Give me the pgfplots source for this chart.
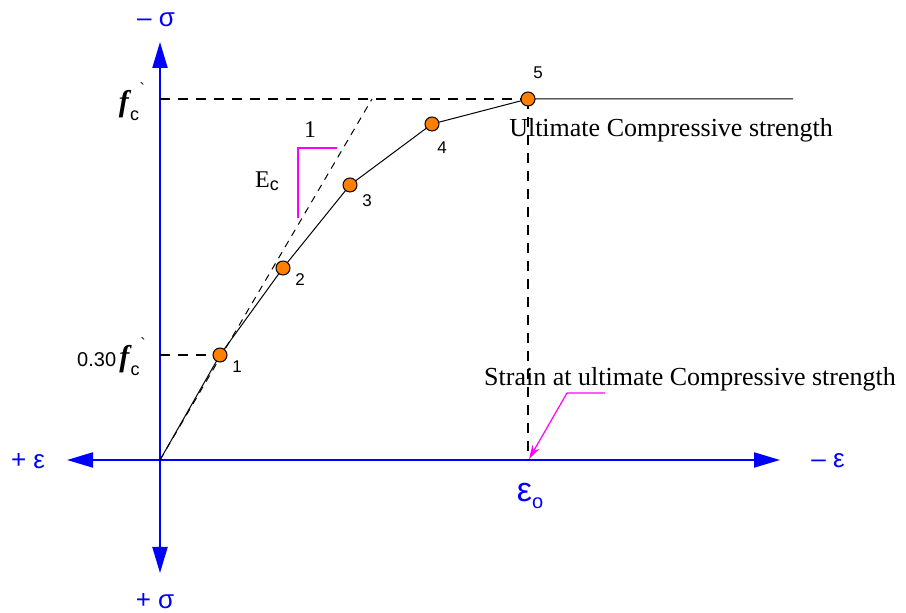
\documentclass[border=0pt]{standalone}
\usepackage{pgfplots}
\pgfplotsset{compat=1.18}
\usepackage{fontspec}
\setmainfont{Liberation Serif}
\newfontfamily\arial{Liberation Sans}
\usetikzlibrary{arrows.meta}
\definecolor{ptorange}{RGB}{255,128,0}
\definecolor{axblue}{RGB}{0,0,255}
\definecolor{mag}{RGB}{255,0,255}
\newcommand{\fc}{{\bfseries\itshape f}\kern0.04em\raisebox{-0.7ex}{\arial\fontsize{9}{10}\selectfont c}\kern0.02em\raisebox{1.2ex}{\arial\fontsize{8}{9}\selectfont `}}
\begin{document}
\begin{tikzpicture}
\begin{axis}[
  scale only axis, width=453pt, height=306.5pt,
  xmin=0, xmax=906, ymin=0, ymax=613, y dir=reverse,
  hide axis, clip=false,
]
% axes
\addplot[axblue, line width=1pt, -{Triangle[length=13pt,width=7.5pt]}] coordinates {(160,460) (160,42)};
\addplot[axblue, line width=1pt, -{Triangle[length=13pt,width=7.5pt]}] coordinates {(160,460) (160,573)};
\addplot[axblue, line width=1pt, -{Triangle[length=13pt,width=7.5pt]}] coordinates {(160,460) (67,460)};
\addplot[axblue, line width=1pt, -{Triangle[length=13pt,width=7.5pt]}] coordinates {(160,460) (780,460)};
% dashed guides
\addplot[black, line width=0.6pt, dash pattern=on 5pt off 4pt] coordinates {(160,99) (528,99)};
\addplot[black, line width=0.6pt, dash pattern=on 5pt off 4pt] coordinates {(160,355) (220,355)};
\addplot[black, line width=0.6pt, dash pattern=on 5pt off 4pt] coordinates {(528,99) (528,460)};
% tangent
\addplot[black, line width=0.5pt, dash pattern=on 3.5pt off 3pt] coordinates {(160,460) (372,99)};
% slope triangle
\addplot[mag, line width=0.6pt] coordinates {(298,218) (298,148) (337,148)};
% curve
\addplot[black, line width=0.5pt] coordinates {(160,460) (220,355) (283,268) (350,185) (432,124) (528,99) (793,99)};
% points
\addplot[only marks, mark=*, mark size=3.5pt, mark options={fill=ptorange, draw=black, line width=0.5pt}] coordinates {(220,355) (283,268) (350,185) (432,124) (528,99)};
% magenta pointer
\addplot[mag, line width=0.6pt, -{Stealth[length=7pt,width=4pt]}] coordinates {(605,393) (567,393) (529,459)};
% texts
\node[inner sep=0pt, font=\arial\fontsize{8.5}{10}\selectfont] at (axis cs:237,367) {1};
\node[inner sep=0pt, font=\arial\fontsize{8.5}{10}\selectfont] at (axis cs:300,280) {2};
\node[inner sep=0pt, font=\arial\fontsize{8.5}{10}\selectfont] at (axis cs:367,201) {3};
\node[inner sep=0pt, font=\arial\fontsize{8.5}{10}\selectfont] at (axis cs:442,148) {4};
\node[inner sep=0pt, font=\arial\fontsize{8.5}{10}\selectfont] at (axis cs:538,73) {5};
\node[inner sep=0pt, font=\fontsize{13}{15}\selectfont] at (axis cs:671,130) {Ultimate Compressive strength};
\node[inner sep=0pt, font=\fontsize{13}{15}\selectfont] at (axis cs:690,379) {Strain at ultimate Compressive strength};
\node[inner sep=0pt, font=\fontsize{12}{14}\selectfont] at (axis cs:310,130) {1};
\node[inner sep=0pt, font=\fontsize{12}{14}\selectfont] at (axis cs:267,181) {E\raisebox{-0.3ex}{\arial\fontsize{9}{10}\selectfont c}};
\node[inner sep=0pt, text=axblue, font=\arial\fontsize{13}{15}\selectfont] at (axis cs:156,20) {\textendash\ σ};
\node[inner sep=0pt, text=axblue, font=\arial\fontsize{13}{15}\selectfont] at (axis cs:155,601) {+\ σ};
\node[inner sep=0pt, text=axblue, font=\arial\fontsize{13}{15}\selectfont] at (axis cs:28,461) {+\ ε};
\node[inner sep=0pt, text=axblue, font=\arial\fontsize{13}{15}\selectfont] at (axis cs:828,461) {\textendash\ ε};
\node[text=axblue, font=\arial\fontsize{17}{19}\selectfont, inner sep=0pt] at (axis cs:530,496) {ε\raisebox{-0.35ex}{\fontsize{10}{12}\selectfont o}};
\node[font=\fontsize{15}{17}\selectfont, inner sep=0pt] at (axis cs:132,102) {\fc};
\node[font=\fontsize{15}{17}\selectfont, inner sep=0pt, anchor=east] at (axis cs:146,357) {{\arial\fontsize{10}{12}\selectfont 0.30\,}\fc};
\end{axis}
\pgfresetboundingbox
\path (current axis.south west) rectangle (current axis.north east);
\end{tikzpicture}
\end{document}
